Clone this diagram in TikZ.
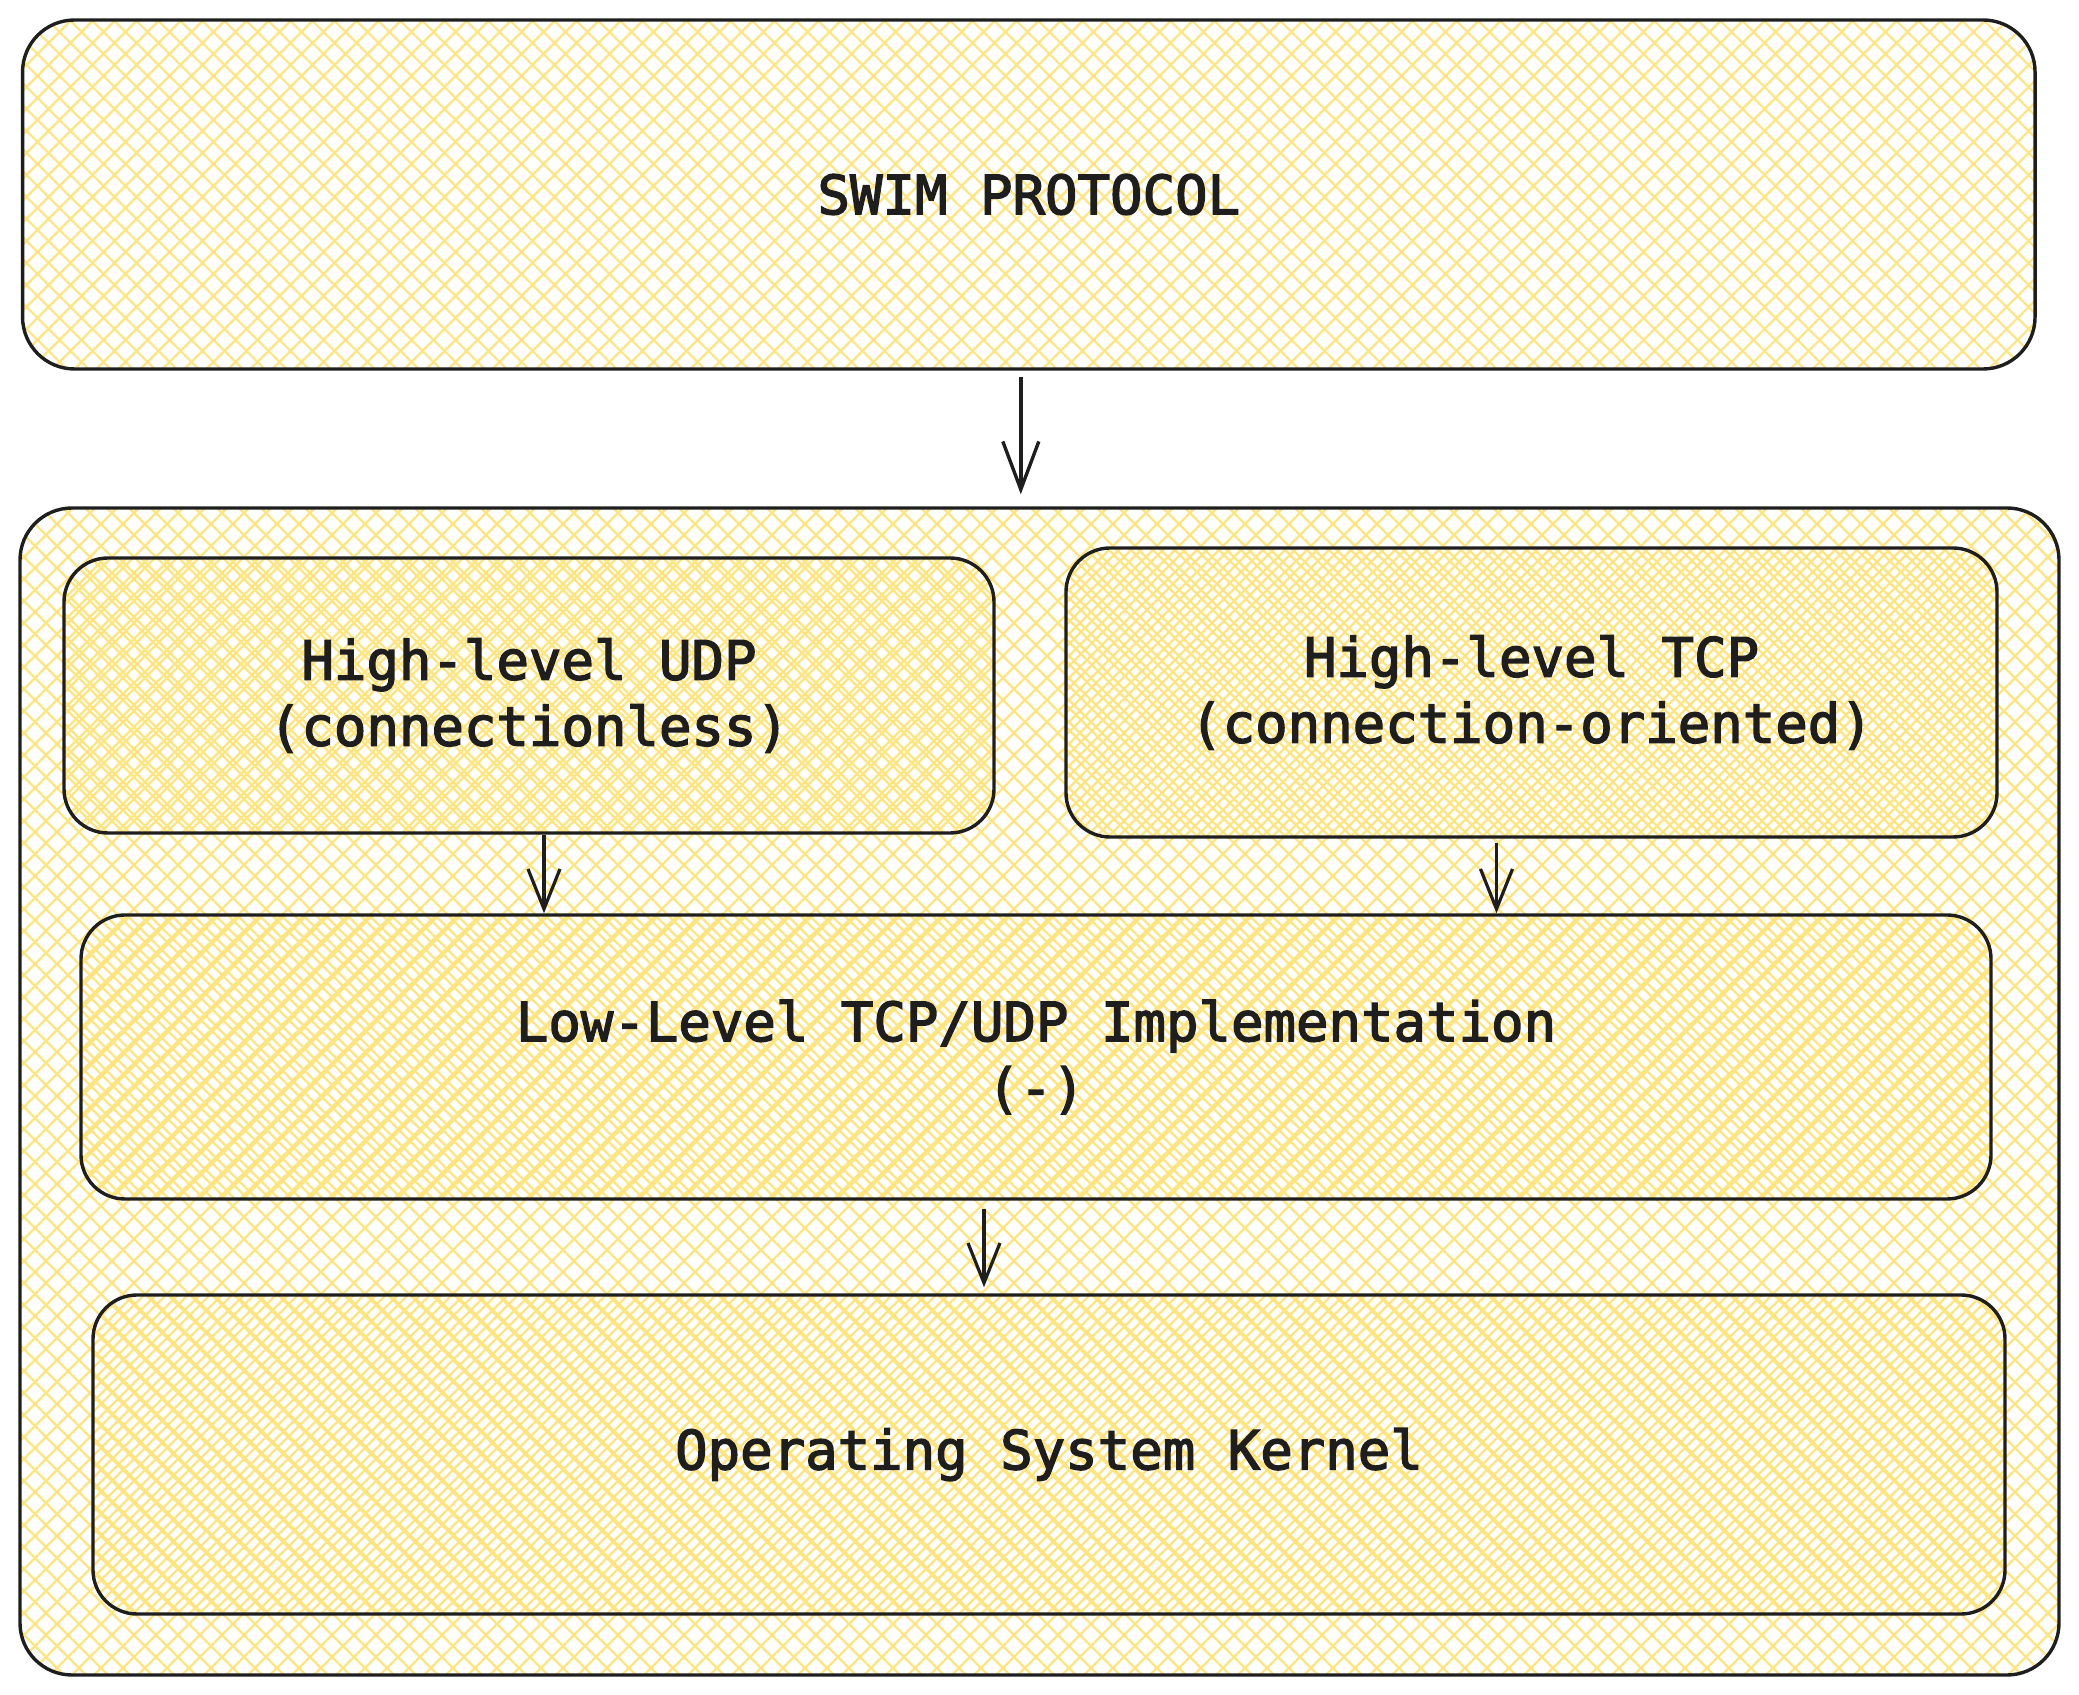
\documentclass[tikz,border=0pt]{standalone}
\usepackage{fontspec}
\newfontface\monof[FakeBold=2.6]{DejaVu Sans Mono}
\usetikzlibrary{arrows.meta,calc}
\definecolor{hatchc}{RGB}{255,228,128}
\definecolor{ink}{RGB}{30,30,30}
\tikzset{
 hatchfill/.style={path picture={
   \foreach \o in {-700,-689,...,1100} \draw[hatchc,line width=1.1pt] ([xshift=\o pt]path picture bounding box.south west) -- ++(700pt,700pt);
   \foreach \o in {0,11,...,1800} \draw[hatchc,line width=1.1pt] ([xshift=\o pt]path picture bounding box.south west) -- ++(-700pt,700pt);
 }},
 box/.style={draw=ink, line width=1.7pt, rounded corners=#1, hatchfill, inner sep=0pt, align=center, font=\monof\fontsize{27}{33}\selectfont, text=ink},
 box/.default=22pt,
 arr/.style={draw=ink, line width=1.6pt, -{Straight Barb[length=20pt,width=16pt,line width=1.6pt]}},
 bigarr/.style={draw=ink, line width=1.7pt, -{Straight Barb[length=24pt,width=18pt,line width=1.7pt]}},
}
\begin{document}
\begin{tikzpicture}[x=1pt,y=1pt]
\useasboundingbox (0,0) rectangle (1039.5,847);
\node[box=26pt, minimum width=1006.25pt, minimum height=174.5pt] (top) at (514.4,749.75) {SWIM PROTOCOL};
\node[box=26pt, minimum width=1019.5pt, minimum height=583.5pt] (outer) at (519.75,301.25) {};
\node[box, minimum width=465pt, minimum height=137.5pt] (udp) at (264.5,499.25) {High-level UDP\\(connectionless)};
\node[box, minimum width=465.5pt, minimum height=144.5pt] (tcp) at (765.75,500.75) {High-level TCP\\(connection-oriented)};
\node[box, minimum width=955pt, minimum height=142pt] (low) at (518,318.5) {Low-Level TCP/UDP Implementation\\(-)};
\node[box, minimum width=956pt, minimum height=159.5pt] (os) at (524.5,119.75) {Operating System Kernel};
\draw[bigarr, shorten <=3pt, shorten >=6pt] ([xshift=-4pt]top.south) -- ([xshift=-4pt]top.south |- outer.north);
\draw[arr] ([xshift=7.5pt]udp.south) -- ([xshift=7.5pt]udp.south |- low.north);
\draw[arr, shorten <=2pt] ([xshift=-17.5pt]tcp.south) -- ([xshift=-17.5pt]tcp.south |- low.north);
\draw[arr, shorten <=4pt, shorten >=3pt] ([xshift=-26pt]low.south) -- ([xshift=-26pt]low.south |- os.north);
\end{tikzpicture}
\end{document}
